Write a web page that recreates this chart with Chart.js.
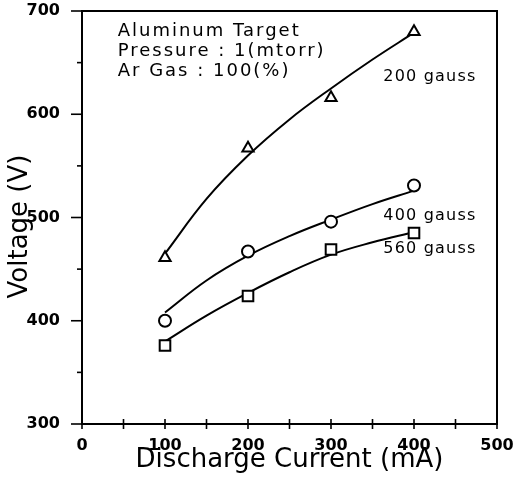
<!DOCTYPE html>
<html><head><meta charset="utf-8">
<script src="https://cdn.jsdelivr.net/npm/chart.js@4"></script>
<style>html,body{margin:0;padding:0;background:#fff}#wrap{width:514px;height:479px}</style>
</head><body><div id="wrap"><canvas id="c" width="514" height="479"></canvas></div>
<script>
// ---- data ----
const currents = [100, 200, 300, 400];           // mA (measured points)
const volt200 = [461, 567, 616, 680];            // V, 200 gauss (triangles)
const volt400 = [400, 467, 496, 531];            // V, 400 gauss (circles)
const volt560 = [376, 424, 469, 485];            // V, 560 gauss (squares)
const fitCurrents = [100, 150, 200, 250, 300, 350, 400]; // mA (fitted curves)
const fit200 = [465, 518, 560, 595, 625, 653, 679];
const fit400 = [408, 439, 463, 482, 498, 513, 526];
const fit560 = [380, 405, 427, 447, 464, 476, 486];
const xTickLabels = ['0', '100', '200', '300', '400', '500'];
const yTickLabels = ['300', '400', '500', '600', '700'];
const infoLines = ['Aluminum Target', 'Pressure : 1(mtorr)', 'Ar Gas : 100(%)'];
const seriesNames = ['200 gauss', '400 gauss', '560 gauss'];
const xTitle = 'Discharge Current (mA)';
const yTitle = 'Voltage (V)';

const pts = (xs, ys) => xs.map((x, i) => ({x, y: ys[i]}));

// text placement (data coordinates) kept separate from the data
const infoAnchor = {x: 43, ys: [680.5, 661, 642]};
const seriesAnchors = [{x: 363, y: 636}, {x: 363, y: 502}, {x: 363, y: 469.5}];

const framePlugin = {
  id: 'frame',
  afterDraw(chart) {
    const {ctx, chartArea: a, scales: {x, y}} = chart;
    ctx.save();
    ctx.strokeStyle = '#000';
    ctx.lineWidth = 2;
    ctx.strokeRect(a.left, a.top, a.right - a.left, a.bottom - a.top);
    ctx.lineWidth = 1.6;
    x.ticks.forEach((t, i) => {
      const px = x.getPixelForTick(i);
      ctx.beginPath();
      ctx.moveTo(px, a.bottom - 5);
      ctx.lineTo(px, a.bottom + 5);
      ctx.stroke();
    });
    y.ticks.forEach((t, i) => {
      const py = y.getPixelForTick(i);
      const major = t.value % 100 === 0;
      ctx.beginPath();
      ctx.moveTo(a.left - (major ? 11 : 5), py);
      ctx.lineTo(a.left, py);
      ctx.stroke();
    });
    ctx.fillStyle = '#000';
    ctx.textBaseline = 'middle';
    ctx.textAlign = 'left';
    ctx.font = '18px "DejaVu Sans"';
    ctx.letterSpacing = '2px';
    infoLines.forEach((s, i) => {
      ctx.fillText(s, x.getPixelForValue(infoAnchor.x), y.getPixelForValue(infoAnchor.ys[i]));
    });
    ctx.font = '16px "DejaVu Sans"';
    ctx.letterSpacing = '1.2px';
    seriesNames.forEach((s, i) => {
      ctx.fillText(s, x.getPixelForValue(seriesAnchors[i].x), y.getPixelForValue(seriesAnchors[i].y));
    });
    // y-axis title (slightly below the plot's vertical centre, as in the reference)
    ctx.letterSpacing = '0px';
    ctx.font = '26px "DejaVu Sans"';
    ctx.textAlign = 'center';
    ctx.translate(20, (a.top + a.bottom) / 2 + 9);
    ctx.rotate(-Math.PI / 2);
    ctx.fillText(yTitle, 0, 0);
    ctx.restore();
  }
};

const markerStyle = (style, r) => ({
  type: 'scatter', showLine: false, pointStyle: style, pointRadius: r, pointHoverRadius: r,
  pointBorderColor: '#000', pointBackgroundColor: '#fff', pointBorderWidth: 2, order: 0
});
const curveStyle = {
  type: 'line', borderColor: '#000', borderWidth: 2, pointRadius: 0, fill: false,
  tension: 0.4, order: 1
};

new Chart(document.getElementById('c'), {
  data: {
    datasets: [
      {label: seriesNames[0] + ' fit', data: pts(fitCurrents, fit200), ...curveStyle},
      {label: seriesNames[1] + ' fit', data: pts(fitCurrents, fit400), ...curveStyle},
      {label: seriesNames[2] + ' fit', data: pts(fitCurrents, fit560), ...curveStyle},
      {label: seriesNames[0], data: pts(currents, volt200), ...markerStyle('triangle', 6.5)},
      {label: seriesNames[1], data: pts(currents, volt400), ...markerStyle('circle', 6)},
      {label: seriesNames[2], data: pts(currents, volt560), ...markerStyle('rect', 7.5)}
    ]
  },
  options: {
    responsive: false,
    animation: false,
    devicePixelRatio: 1,
    layout: {padding: 0},
    plugins: {legend: {display: false}, tooltip: {enabled: false}},
    scales: {
      x: {
        type: 'linear', min: 0, max: 500,
        grid: {display: false}, border: {display: false},
        ticks: {
          stepSize: 50, autoSkip: false, maxRotation: 0, padding: 4,
          color: '#000', font: {family: 'DejaVu Sans', size: 16, weight: 'bold'},
          callback: v => (v % 100 === 0 ? xTickLabels[v / 100] : '')
        },
        title: {display: true, text: xTitle, color: '#000',
          font: {family: 'DejaVu Sans', size: 26}, padding: {top: 0, bottom: 3}},
        afterFit: s => { s.height = 55; s.paddingLeft = 0; s.paddingRight = 17; }
      },
      y: {
        type: 'linear', min: 300, max: 700,
        grid: {display: false}, border: {display: false},
        ticks: {
          stepSize: 50, autoSkip: false, padding: 14,
          color: '#000', font: {family: 'DejaVu Sans', size: 16, weight: 'bold'},
          callback: v => (v % 100 === 0 ? yTickLabels[(v - 300) / 100] : '')
        },
        title: {display: false, text: yTitle},
        afterFit: s => { s.width = 82; s.paddingTop = 11; s.paddingBottom = 0; }
      }
    }
  },
  plugins: [framePlugin]
});
</script>
</body></html>
